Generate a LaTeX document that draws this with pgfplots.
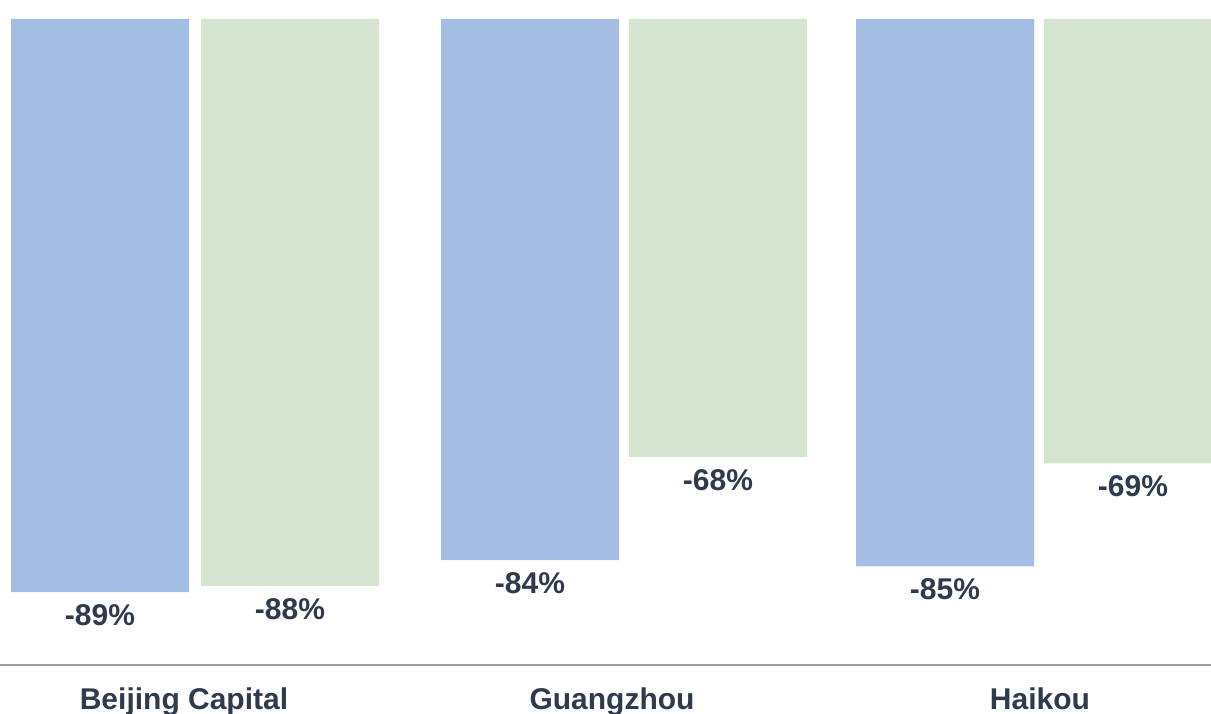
\documentclass[border=0pt]{standalone}
\usepackage{pgfplots}
\pgfplotsset{compat=1.18}
\usepackage{fontspec}
\setmainfont{Liberation Sans}

\definecolor{barblue}{HTML}{A4BDE3}
\definecolor{bargreen}{HTML}{D6E5D0}
\definecolor{labeltext}{HTML}{2F3B4C}
\definecolor{axisgray}{HTML}{A0A0A0}

\begin{document}
\begin{tikzpicture}
\begin{axis}[
    at={(0,0)}, anchor=south west,
    scale only axis,
    width=605.5pt, height=332.5pt,
    xmin=0, xmax=1211,
    ymin=-100.3, ymax=2.95,
    ybar,
    bar width=178,
    axis x line*=bottom,
    axis y line=none,
    x axis line style={draw=axisgray, line width=1pt, -},
    xtick={184,612,1040},
    xticklabels={Beijing Capital, Guangzhou, Haikou},
    major tick length=0pt,
    xticklabel style={font=\fontsize{15}{18}\selectfont\bfseries,
        text=labeltext, anchor=base, yshift=-22pt},
    point meta=explicit symbolic,
    nodes near coords,
    every node near coord/.append style={font=\fontsize{15}{18}\selectfont\bfseries,
        text=labeltext, inner sep=0pt, anchor=north, yshift=-6pt},
]

% first series (blue)
\addplot[fill=barblue, draw=none, bar shift=0pt] coordinates {
    (100,-89) [-89\%]
    (530,-84) [-84\%]
    (945,-85) [-85\%]
};

% second series (green)
\addplot[fill=bargreen, draw=none, bar shift=0pt] coordinates {
    (290,-88) [-88\%]
    (718,-68) [-68\%]
    (1133,-69) [-69\%]
};

\end{axis}
\pgfresetboundingbox
\useasboundingbox (0,-24pt) rectangle (605.5pt,332.5pt);
\end{tikzpicture}
\end{document}
